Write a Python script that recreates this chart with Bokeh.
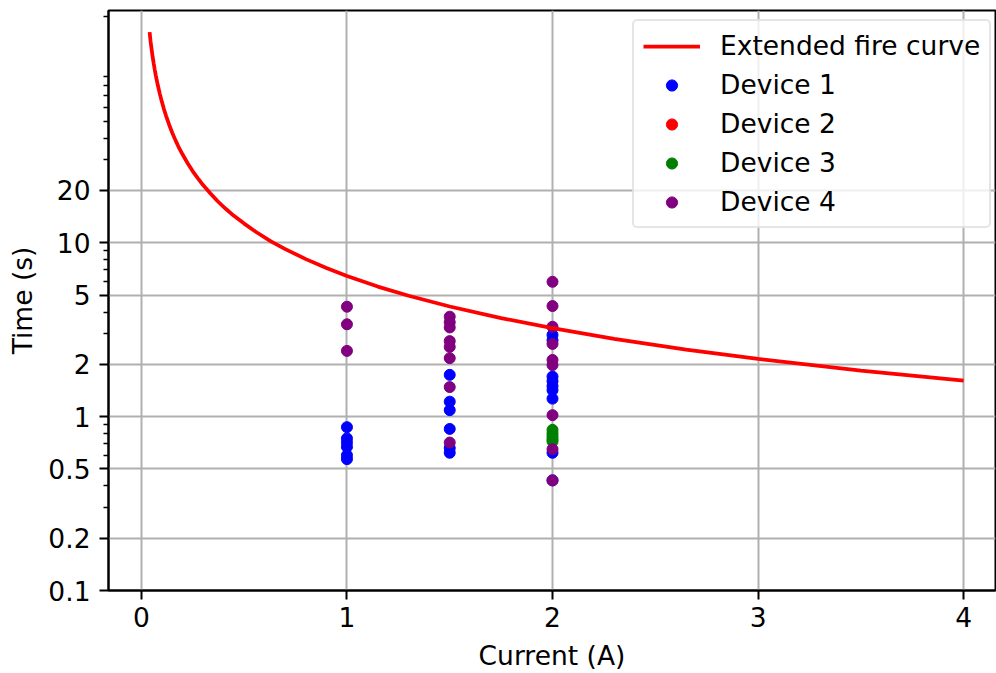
from bokeh.plotting import figure
from bokeh.models import Range1d, FixedTicker, Legend, LegendItem, CustomJSTickFormatter
from bokeh.embed import file_html
from bokeh.resources import INLINE

# ---- data ----
curve_current = [0.040, 0.045, 0.050, 0.055, 0.060, 0.065, 0.070, 0.080, 0.090, 0.100,
                 0.110, 0.120, 0.135, 0.150, 0.165, 0.180, 0.200, 0.225, 0.250, 0.275,
                 0.300, 0.335, 0.370, 0.410, 0.450, 0.500, 0.560, 0.630, 0.700, 0.800,
                 0.900, 1.00, 1.15, 1.30, 1.50, 1.75, 2.00, 2.30, 2.65, 3.00, 3.50, 4.00]
curve_time = [163, 143, 129, 117, 107.5, 99, 92, 80.6, 71.7, 64.5,
              58.6, 53.8, 47.8, 43, 39.1, 35.8, 32.3, 28.7, 25.8, 23.5,
              21.5, 19.3, 17.4, 15.7, 14.3, 12.9, 11.5, 10.2, 9.2, 8.06,
              7.17, 6.45, 5.6, 4.96, 4.3, 3.69, 3.23, 2.8, 2.43, 2.15, 1.84, 1.61]

dev1_current = [1, 1, 1, 1, 1, 1,
                1.5, 1.5, 1.5, 1.5, 1.5, 1.5,
                2, 2, 2, 2, 2, 2, 2, 2, 2]
dev1_time = [0.87, 0.75, 0.71, 0.67, 0.60, 0.57,
             1.74, 1.22, 1.09, 0.85, 0.66, 0.62,
             2.95, 2.75, 1.70, 1.60, 1.50, 1.42, 1.27, 0.62, 0.43]

# Device 2 has no visible point in the reference
dev2_current = [float("nan")]
dev2_time = [float("nan")]

dev3_current = [2, 2, 2, 2, 2]
dev3_time = [0.84, 0.80, 0.77, 0.74, 0.72]

dev4_current = [1, 1, 1,
                1.5, 1.5, 1.5, 1.5, 1.5, 1.5, 1.5, 1.5,
                2, 2, 2, 2, 2, 2, 2, 2, 2]
dev4_time = [4.29, 3.40, 2.39,
             3.76, 3.49, 3.26, 2.72, 2.52, 2.17, 1.48, 0.71,
             5.97, 4.33, 3.29, 2.62, 2.12, 1.98, 1.02, 0.65, 0.43]

x_ticks = [0, 1, 2, 3, 4]
y_major = [0.1, 0.2, 0.5, 1, 2, 5, 10, 20]
y_minor = [0.3, 0.4, 0.6, 0.7, 0.8, 0.9, 3, 4, 6, 7, 8, 9,
           30, 40, 50, 60, 70, 80, 90, 200]

FONT = "DejaVu Sans"
FS = "26.5px"

p = figure(width=996, height=673, y_axis_type="log",
           x_range=Range1d(-0.16, 4.155), y_range=Range1d(0.1, 217),
           output_backend="svg", toolbar_location=None,
           min_border_left=108, min_border_right=1,
           min_border_top=10, min_border_bottom=82)
p.background_fill_color = "white"
p.border_fill_color = "white"
p.outline_line_color = "black"
p.outline_line_width = 2

p.xaxis.ticker = FixedTicker(ticks=x_ticks)
p.yaxis.ticker = FixedTicker(ticks=y_major, minor_ticks=y_minor)
p.yaxis.formatter = CustomJSTickFormatter(code="return tick.toString();")

for ax in (p.xaxis[0], p.yaxis[0]):
    ax.axis_line_color = "black"
    ax.axis_line_width = 2
    ax.major_tick_line_color = "black"
    ax.major_tick_line_width = 2
    ax.major_tick_out = 9
    ax.major_tick_in = 0
    ax.minor_tick_line_color = "black"
    ax.minor_tick_line_width = 1.5
    ax.minor_tick_out = 5
    ax.minor_tick_in = 0
    ax.major_label_text_font = FONT
    ax.major_label_text_font_size = FS
    ax.major_label_text_color = "black"
    ax.axis_label_text_font = FONT
    ax.axis_label_text_font_size = FS
    ax.axis_label_text_font_style = "normal"
    ax.axis_label_text_color = "black"

p.xaxis.axis_label = "Current (A)"
p.yaxis.axis_label = "Time (s)"
p.xaxis.major_label_standoff = 7
p.yaxis.major_label_standoff = 9
p.xaxis.axis_label_standoff = 10
p.yaxis.axis_label_standoff = 7

for g in (p.xgrid[0], p.ygrid[0]):
    g.grid_line_color = "#b0b0b0"
    g.grid_line_width = 2

r1 = p.scatter(dev1_current, dev1_time, size=11, fill_color="blue", line_color="blue")
r2 = p.scatter(dev2_current, dev2_time, size=11, fill_color="red", line_color="red")
r3 = p.scatter(dev3_current, dev3_time, size=11, fill_color="green", line_color="green")
r4 = p.scatter(dev4_current, dev4_time, size=11, fill_color="purple", line_color="purple")
rc = p.line(curve_current, curve_time, line_color="red", line_width=3.75)

legend = Legend(items=[
    LegendItem(label="Extended fire curve", renderers=[rc]),
    LegendItem(label="Device 1", renderers=[r1]),
    LegendItem(label="Device 2", renderers=[r2]),
    LegendItem(label="Device 3", renderers=[r3]),
    LegendItem(label="Device 4", renderers=[r4]),
])
legend.location = (524, 362)
legend.label_text_font = FONT
legend.label_text_font_size = FS
legend.label_text_color = "black"
legend.label_height = 28
legend.glyph_height = 28
legend.glyph_width = 57
legend.label_standoff = 20
legend.spacing = 8
legend.padding = 9
legend.margin = 0
legend.background_fill_color = "white"
legend.background_fill_alpha = 0.8
legend.border_line_color = "#cccccc"
legend.border_line_width = 2
if "border_radius" in Legend.properties():
    legend.border_radius = 5
p.add_layout(legend)

open("out.html", "w").write(file_html(p, INLINE))
